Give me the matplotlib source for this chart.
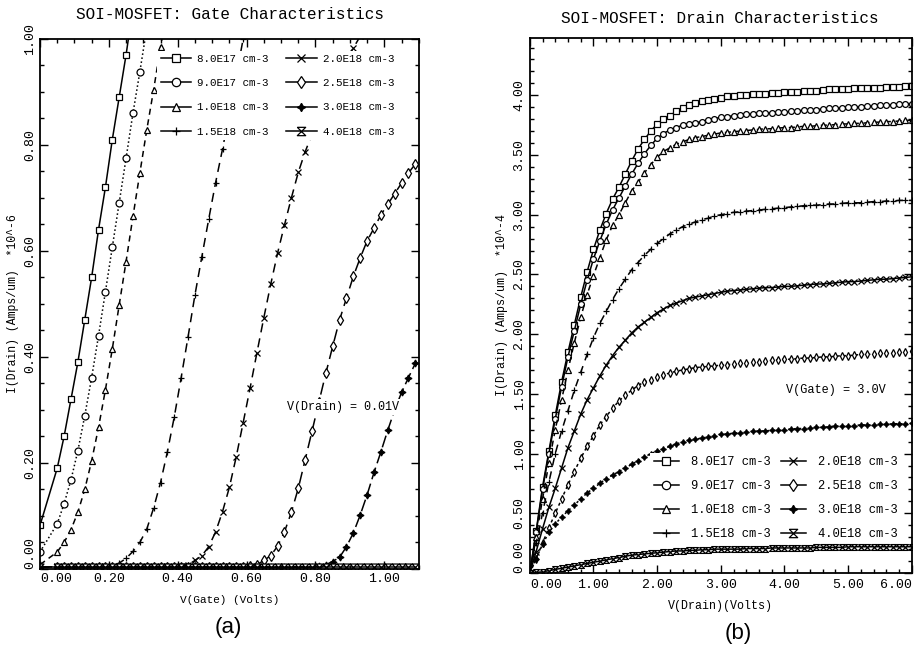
import matplotlib
matplotlib.use("Agg")
import matplotlib.pyplot as plt
from matplotlib.lines import Line2D
from matplotlib.ticker import MultipleLocator

plt.rcParams['font.family'] = ['Liberation Mono', 'DejaVu Sans Mono']

LABELS = ['8.0E17 cm-3', '9.0E17 cm-3', '1.0E18 cm-3', '1.5E18 cm-3',
          '2.0E18 cm-3', '2.5E18 cm-3', '3.0E18 cm-3', '4.0E18 cm-3']

# ---------------- (a) gate characteristics, V(Drain)=0.01V ----------------
VG = [0.00, 0.05, 0.07, 0.09, 0.11, 0.13, 0.15, 0.17, 0.19, 0.21, 0.23, 0.25,
      0.27, 0.29, 0.31, 0.33, 0.35, 0.37, 0.39, 0.41, 0.43, 0.45, 0.47, 0.49,
      0.51, 0.53, 0.55, 0.57, 0.59, 0.61, 0.63, 0.65, 0.67, 0.69, 0.71, 0.73,
      0.75, 0.77, 0.79, 0.81, 0.83, 0.85, 0.87, 0.89, 0.91, 0.93, 0.95, 0.97,
      0.99, 1.01, 1.03, 1.05, 1.07, 1.09]

IG_8E17 = [0.082, 0.19, 0.25, 0.32, 0.39, 0.47, 0.55, 0.64, 0.72, 0.81, 0.89,
           0.97, 1.06]
IG_9E17 = [0.032, 0.085, 0.123, 0.168, 0.223, 0.289, 0.361, 0.440, 0.523,
           0.607, 0.691, 0.775, 0.860, 0.938, 1.02]
IG_1E18 = [0.008, 0.032, 0.050, 0.074, 0.107, 0.150, 0.204, 0.267, 0.338,
           0.415, 0.498, 0.580, 0.665, 0.747, 0.828, 0.904, 0.985, 1.06]
IG_15E18 = [0.004, 0.004, 0.004, 0.004, 0.004, 0.004, 0.004, 0.004, 0.004,
            0.005, 0.011, 0.020, 0.033, 0.050, 0.075, 0.115, 0.163, 0.221,
            0.287, 0.361, 0.438, 0.517, 0.589, 0.660, 0.729, 0.792, 0.86,
            0.93, 1.00, 1.07]
IG_2E18 = [0.004, 0.004, 0.004, 0.004, 0.004, 0.004, 0.004, 0.004, 0.004,
           0.004, 0.004, 0.004, 0.004, 0.004, 0.004, 0.004, 0.004, 0.004,
           0.004, 0.005, 0.008, 0.016, 0.025, 0.042, 0.070, 0.108, 0.154,
           0.212, 0.276, 0.341, 0.408, 0.474, 0.537, 0.596, 0.649, 0.700,
           0.748, 0.787, 0.82, 0.855, 0.885, 0.91, 0.935, 0.96, 0.983, 1.005]
IG_25E18 = [0.004, 0.004, 0.004, 0.004, 0.004, 0.004, 0.004, 0.004, 0.004,
            0.004, 0.004, 0.004, 0.004, 0.004, 0.004, 0.004, 0.004, 0.004,
            0.004, 0.004, 0.004, 0.004, 0.004, 0.004, 0.004, 0.004, 0.004,
            0.004, 0.004, 0.005, 0.008, 0.016, 0.025, 0.043, 0.070, 0.107,
            0.152, 0.206, 0.260, 0.315, 0.369, 0.420, 0.470, 0.511, 0.552,
            0.587, 0.619, 0.643, 0.668, 0.688, 0.708, 0.728, 0.747, 0.764]
IG_3E18 = [0.004, 0.004, 0.004, 0.004, 0.004, 0.004, 0.004, 0.004, 0.004,
           0.004, 0.004, 0.004, 0.004, 0.004, 0.004, 0.004, 0.004, 0.004,
           0.004, 0.004, 0.004, 0.004, 0.004, 0.004, 0.004, 0.004, 0.004,
           0.004, 0.004, 0.004, 0.004, 0.004, 0.004, 0.004, 0.004, 0.004,
           0.004, 0.004, 0.004, 0.005, 0.008, 0.014, 0.022, 0.042, 0.068,
           0.102, 0.140, 0.182, 0.221, 0.262, 0.300, 0.333, 0.361, 0.388]
IG_4E18 = [0.004, 0.004, 0.004, 0.004, 0.004, 0.004, 0.004, 0.004, 0.004,
           0.004, 0.004, 0.004, 0.004, 0.004, 0.004, 0.004, 0.004, 0.004,
           0.004, 0.004, 0.004, 0.004, 0.004, 0.004, 0.004, 0.004, 0.004,
           0.004, 0.004, 0.004, 0.004, 0.004, 0.004, 0.004, 0.004, 0.004,
           0.004, 0.004, 0.004, 0.004, 0.004, 0.004, 0.004, 0.004, 0.004,
           0.004, 0.004, 0.004, 0.004, 0.004, 0.004, 0.004, 0.004, 0.004]

# ---------------- (b) drain characteristics, V(Gate)=3.0V ----------------
VD = [0.0, 0.1, 0.2, 0.3, 0.4, 0.5, 0.6, 0.7, 0.8, 0.9,
      1.0, 1.1, 1.2, 1.3, 1.4, 1.5, 1.6, 1.7, 1.8, 1.9,
      2.0, 2.1, 2.2, 2.3, 2.4, 2.5, 2.6, 2.7, 2.8, 2.9,
      3.0, 3.1, 3.2, 3.3, 3.4, 3.5, 3.6, 3.7, 3.8, 3.9,
      4.0, 4.1, 4.2, 4.3, 4.4, 4.5, 4.6, 4.7, 4.8, 4.9,
      5.0, 5.1, 5.2, 5.3, 5.4, 5.5, 5.6, 5.7, 5.8, 5.9, 6.0]

ID_8E17 = [0.00, 0.35, 0.72, 1.02, 1.32, 1.60, 1.85, 2.08, 2.31, 2.52,
           2.71, 2.87, 3.01, 3.13, 3.23, 3.34, 3.45, 3.55, 3.63, 3.70,
           3.76, 3.80, 3.83, 3.865, 3.89, 3.915, 3.935, 3.95, 3.96, 3.97,
           3.98, 3.99, 3.995, 4.00, 4.005, 4.01, 4.01, 4.015, 4.02, 4.02,
           4.025, 4.03, 4.03, 4.035, 4.04, 4.04, 4.045, 4.05, 4.05, 4.05,
           4.055, 4.06, 4.06, 4.06, 4.065, 4.065, 4.07, 4.07, 4.07, 4.075, 4.075]
ID_9E17 = [0.00, 0.34, 0.70, 1.00, 1.29, 1.56, 1.81, 2.03, 2.25, 2.45,
           2.63, 2.78, 2.92, 3.04, 3.14, 3.24, 3.34, 3.43, 3.51, 3.58,
           3.64, 3.68, 3.71, 3.73, 3.75, 3.76, 3.77, 3.78, 3.795, 3.805,
           3.815, 3.82, 3.83, 3.835, 3.84, 3.845, 3.85, 3.85, 3.855, 3.86,
           3.86, 3.865, 3.87, 3.875, 3.88, 3.88, 3.885, 3.89, 3.89, 3.895,
           3.90, 3.90, 3.905, 3.91, 3.91, 3.915, 3.92, 3.92, 3.925, 3.93, 3.93]
ID_1E18 = [0.00, 0.30, 0.62, 0.92, 1.20, 1.45, 1.70, 1.93, 2.14, 2.33,
           2.49, 2.64, 2.79, 2.91, 3.00, 3.10, 3.20, 3.27, 3.35, 3.42,
           3.48, 3.53, 3.56, 3.59, 3.61, 3.63, 3.645, 3.655, 3.665, 3.675,
           3.685, 3.69, 3.695, 3.70, 3.705, 3.71, 3.715, 3.72, 3.72, 3.725,
           3.73, 3.73, 3.735, 3.74, 3.74, 3.745, 3.75, 3.75, 3.755, 3.76,
           3.76, 3.765, 3.765, 3.77, 3.775, 3.775, 3.78, 3.78, 3.785, 3.79, 3.79]
ID_15E18 = [0.00, 0.25, 0.50, 0.76, 1.00, 1.19, 1.36, 1.53, 1.68, 1.83,
            1.97, 2.09, 2.19, 2.29, 2.38, 2.46, 2.54, 2.60, 2.66, 2.71,
            2.76, 2.80, 2.84, 2.87, 2.90, 2.92, 2.94, 2.96, 2.97, 2.99,
            3.00, 3.01, 3.02, 3.025, 3.03, 3.035, 3.04, 3.045, 3.05, 3.055,
            3.06, 3.065, 3.07, 3.075, 3.08, 3.08, 3.085, 3.09, 3.09, 3.095,
            3.10, 3.10, 3.10, 3.105, 3.11, 3.11, 3.115, 3.115, 3.12, 3.12, 3.12]
ID_2E18 = [0.00, 0.18, 0.37, 0.55, 0.71, 0.88, 1.05, 1.19, 1.33, 1.45,
           1.55, 1.65, 1.74, 1.82, 1.89, 1.95, 2.01, 2.06, 2.10, 2.14,
           2.18, 2.21, 2.24, 2.26, 2.28, 2.30, 2.31, 2.32, 2.33, 2.34,
           2.35, 2.36, 2.365, 2.37, 2.375, 2.38, 2.385, 2.39, 2.39, 2.395,
           2.40, 2.40, 2.405, 2.41, 2.415, 2.42, 2.42, 2.425, 2.43, 2.435,
           2.44, 2.44, 2.445, 2.45, 2.455, 2.46, 2.46, 2.465, 2.47, 2.475, 2.48]
ID_25E18 = [0.00, 0.12, 0.25, 0.38, 0.50, 0.62, 0.74, 0.85, 0.96, 1.06,
            1.15, 1.24, 1.31, 1.38, 1.44, 1.49, 1.53, 1.57, 1.60, 1.62,
            1.64, 1.66, 1.675, 1.69, 1.70, 1.71, 1.72, 1.725, 1.73, 1.735,
            1.74, 1.745, 1.75, 1.755, 1.76, 1.765, 1.77, 1.775, 1.78, 1.785,
            1.79, 1.79, 1.795, 1.80, 1.80, 1.805, 1.81, 1.81, 1.815, 1.82,
            1.82, 1.825, 1.83, 1.83, 1.835, 1.84, 1.84, 1.845, 1.85, 1.85, 1.855]
ID_3E18 = [0.00, 0.12, 0.24, 0.34, 0.41, 0.47, 0.52, 0.57, 0.62, 0.67,
           0.71, 0.75, 0.79, 0.82, 0.85, 0.88, 0.91, 0.94, 0.97, 1.00,
           1.02, 1.04, 1.06, 1.08, 1.10, 1.11, 1.12, 1.13, 1.14, 1.15,
           1.16, 1.165, 1.17, 1.175, 1.18, 1.185, 1.19, 1.19, 1.195, 1.20,
           1.20, 1.205, 1.21, 1.21, 1.215, 1.22, 1.22, 1.225, 1.23, 1.23,
           1.235, 1.235, 1.24, 1.24, 1.24, 1.245, 1.245, 1.25, 1.25, 1.25, 1.255]
ID_4E18 = [0.00, 0.005, 0.01, 0.02, 0.03, 0.04, 0.05, 0.06, 0.07, 0.08,
           0.09, 0.10, 0.11, 0.12, 0.13, 0.14, 0.15, 0.155, 0.16, 0.165,
           0.17, 0.175, 0.18, 0.185, 0.185, 0.19, 0.19, 0.195, 0.195, 0.20,
           0.20, 0.20, 0.20, 0.20, 0.205, 0.205, 0.205, 0.205, 0.21, 0.21,
           0.21, 0.21, 0.21, 0.21, 0.21, 0.215, 0.215, 0.215, 0.215, 0.215,
           0.22, 0.22, 0.22, 0.22, 0.22, 0.22, 0.22, 0.22, 0.22, 0.22, 0.22]

GATE_SERIES = [IG_8E17, IG_9E17, IG_1E18, IG_15E18, IG_2E18, IG_25E18, IG_3E18, IG_4E18]
DRAIN_SERIES = [ID_8E17, ID_9E17, ID_1E18, ID_15E18, ID_2E18, ID_25E18, ID_3E18, ID_4E18]
for s in GATE_SERIES:
    assert len(s) <= len(VG)
for s in DRAIN_SERIES:
    assert len(s) == len(VD), len(s)

GATE_XTICKS = [0.0, 0.2, 0.4, 0.6, 0.8, 1.0]
GATE_YTICKS = [0.0, 0.2, 0.4, 0.6, 0.8, 1.0]
DRAIN_XTICKS = [0.0, 1.0, 2.0, 3.0, 4.0, 5.0, 6.0]
DRAIN_YTICKS = [0.0, 0.5, 1.0, 1.5, 2.0, 2.5, 3.0, 3.5, 4.0]

# ---------------- styles ----------------
HOURGLASS = [(-1, 1), (1, 1), (-1, -1), (1, -1), (-1, 1)]
MARKERS = ['s', 'o', '^', '+', 'x', 'd', (4, 1, 0), HOURGLASS]
FILLED = [False, False, False, False, False, False, True, False]
LS_GATE = ['-', ':', (0, (4, 3)), (0, (6, 4)), (0, (6, 4)), (0, (8, 4)), (0, (8, 3)), '-']
LS_DRAIN = ['-', '-', (0, (4, 3)), (0, (5, 4)), '-', (0, (2, 2)), (0, (1.5, 2)), '-']


def style_axes(ax, xt, yt, xminor, yminor, ypad, xpad):
    ax.set_xticks(xt)
    ax.set_xticklabels(['%.2f' % v for v in xt], fontsize=9.5)
    ax.set_yticks(yt)
    ax.set_yticklabels(['%.2f' % v for v in yt], fontsize=9.5, rotation=90, va='center')
    ax.xaxis.set_minor_locator(MultipleLocator(xminor))
    ax.yaxis.set_minor_locator(MultipleLocator(yminor))
    ax.tick_params(which='both', direction='in', top=True, right=True, width=1.0)
    ax.tick_params(which='major', length=6)
    ax.tick_params(which='minor', length=3)
    ax.tick_params(axis='y', pad=ypad)
    ax.tick_params(axis='x', pad=xpad)
    ax.get_xticklabels()[0].set_ha('left')
    ax.get_yticklabels()[0].set_va('bottom')
    for sp in ax.spines.values():
        sp.set_linewidth(1.3)


def draw(ax, x, series, ls_list, ms):
    for i, y in enumerate(series):
        ax.plot(x[:len(y)], y, color='black', lw=1.1, ls=ls_list[i],
                marker=MARKERS[i], ms=ms, mew=0.9, mec='black',
                mfc='black' if FILLED[i] else 'white', zorder=2)


def legend(ax, anchor, fs, hl, htp, cs, ls, ms):
    handles = [Line2D([], [], color='black', lw=1.1, marker=MARKERS[i], ms=ms,
                      mew=0.9, mec='black', mfc='black' if FILLED[i] else 'white')
               for i in range(8)]
    leg = ax.legend(handles, LABELS, loc='upper left', bbox_to_anchor=anchor,
                    ncol=2, fontsize=fs, handlelength=hl, handletextpad=htp,
                    columnspacing=cs, labelspacing=ls, frameon=True,
                    fancybox=False, borderpad=0.3, borderaxespad=0)
    fr = leg.get_frame()
    fr.set_facecolor('white')
    fr.set_edgecolor('none')
    fr.set_alpha(1.0)


fig = plt.figure(figsize=(9.15, 6.48), dpi=100)

# ---- left panel
axL = fig.add_axes([0.0437, 0.122, 0.414, 0.818])
draw(axL, VG, GATE_SERIES, LS_GATE, 5)
axL.set_xlim(0, 1.1)
axL.set_ylim(0, 1.0)
style_axes(axL, GATE_XTICKS, GATE_YTICKS, 0.05, 0.05, 3, 3)
axL.set_xlabel('V(Gate) (Volts)', fontsize=8)
axL.xaxis.set_label_coords(0.5, -0.05)
axL.set_ylabel('I(Drain) (Amps/um)  *10^-6', fontsize=8.3)
axL.yaxis.set_label_coords(-0.056, 0.5)
legend(axL, (0.31, 0.978), 7.8, 2.8, 0.6, 1.6, 1.32, 6)
axL.text(0.88, 0.305, 'V(Drain) = 0.01V', ha='center', va='center', fontsize=8.5,
         bbox=dict(facecolor='white', edgecolor='none', pad=1.5), zorder=4)

# ---- right panel
axR = fig.add_axes([0.579, 0.1157, 0.4175, 0.8257])
draw(axR, VD, DRAIN_SERIES, LS_DRAIN, 4.2)
axR.set_xlim(0, 6.0)
axR.set_ylim(0, 4.48)
style_axes(axR, DRAIN_XTICKS, DRAIN_YTICKS, 0.2, 0.1, 3, 4)
axR.get_xticklabels()[-1].set_ha('right')
axR.set_xlabel('V(Drain)(Volts)', fontsize=8.4)
axR.xaxis.set_label_coords(0.5, -0.05)
axR.set_ylabel('I(Drain) (Amps/um)  *10^-4', fontsize=8.4)
axR.yaxis.set_label_coords(-0.058, 0.5)
legend(axR, (0.315, 0.225), 8.7, 2.1, 1.0, 0.8, 0.98, 6)
axR.text(4.8, 1.53, 'V(Gate) = 3.0V', ha='center', va='center', fontsize=8.6, zorder=4)

# ---- titles and panel labels
fig.text(0.2514, 0.977, 'SOI-MOSFET: Gate Characteristics', ha='center', va='center', fontsize=11.5)
fig.text(0.787, 0.972, 'SOI-MOSFET: Drain Characteristics', ha='center', va='center', fontsize=11.5)
fig.text(0.249, 0.031, '(a)', ha='center', va='center', fontsize=16, family='Liberation Sans')
fig.text(0.807, 0.023, '(b)', ha='center', va='center', fontsize=16, family='Liberation Sans')

fig.savefig('out.png', dpi=100, facecolor='white')
